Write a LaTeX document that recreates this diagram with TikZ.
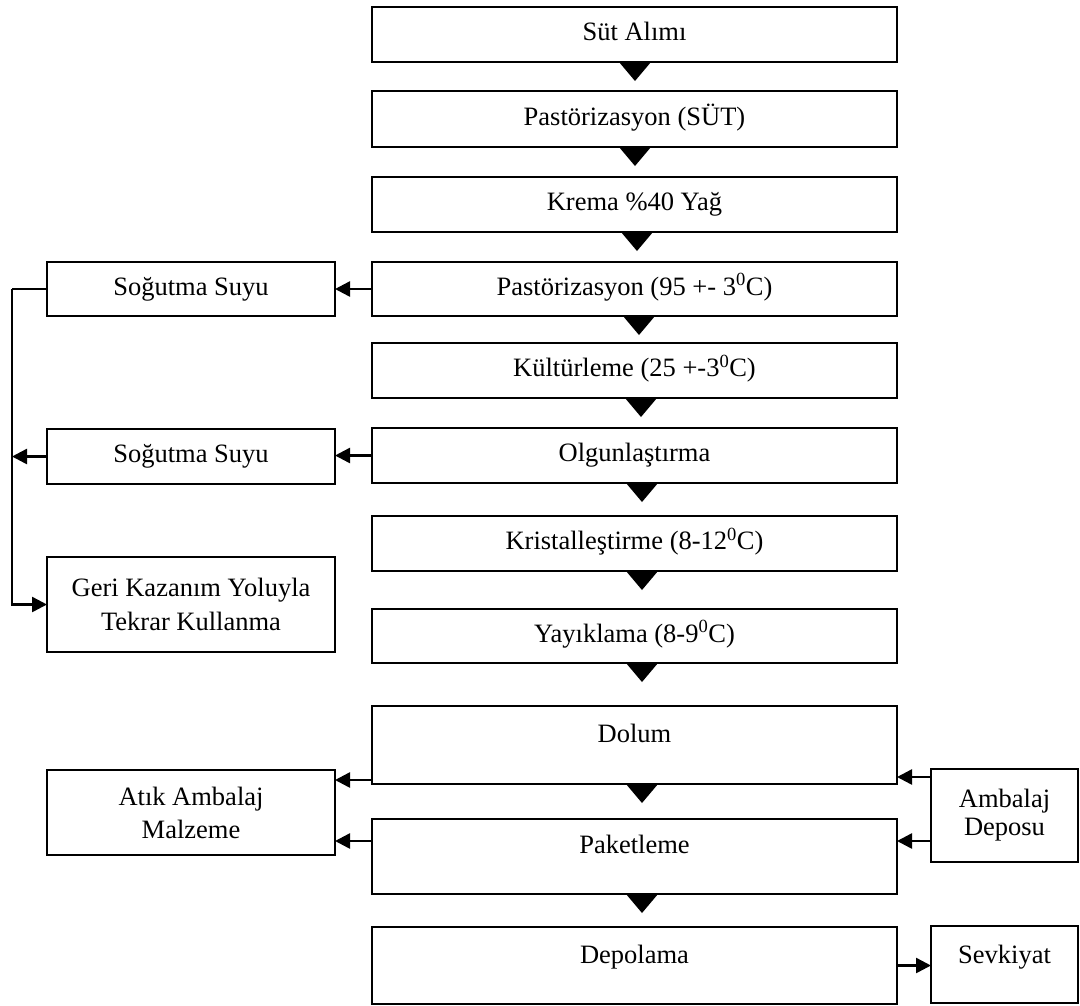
\documentclass[tikz,border=0pt]{standalone}
\usepackage{fontspec}
\setmainfont{Liberation Serif}
\usetikzlibrary{arrows.meta}
\begin{document}
\begin{tikzpicture}[x=1pt, y=-1pt,
  every node/.style={font=\fontsize{26.5}{34}\selectfont},
  box/.style={draw, fill=white, line width=2.8pt, inner sep=0pt, outer sep=0pt,
    text height=18pt, text depth=6pt},
  tallbox/.style={box, text depth=24pt},
  twoline/.style={draw, fill=white, line width=2.8pt, inner sep=0pt, outer sep=0pt,
    align=center},
  mainbox/.style={box, minimum width=525pt},
  sidebox/.style={box, minimum width=288pt},
  flow/.style={line width=2.5pt, -{Triangle[length=15pt, width=15pt]}},
  link/.style={line width=2.5pt},
  drop/.style={fill=black}
]
\useasboundingbox (0,0) rectangle (1080,1005);

% main process column
\node[mainbox, minimum height=55pt] (s1)  at (634.5, 34.5) {Süt Alımı};
\node[mainbox, minimum height=56pt] (s2)  at (634.5, 119)  {Pastörizasyon (SÜT)};
\node[mainbox, minimum height=55pt] (s3)  at (634.5, 204.5) {Krema \%40 Yağ};
\node[mainbox, minimum height=54pt] (s4)  at (634.5, 289)  {Pastörizasyon (95 +- 3\textsuperscript{0}C)};
\node[mainbox, minimum height=55pt] (s5)  at (634.5, 370.5) {Kültürleme (25 +-3\textsuperscript{0}C)};
\node[mainbox, minimum height=55pt] (s6)  at (634.5, 455.5) {Olgunlaştırma};
\node[mainbox, minimum height=55pt] (s7)  at (634.5, 543.5) {Kristalleştirme (8-12\textsuperscript{0}C)};
\node[mainbox, minimum height=54pt] (s8)  at (634.5, 636)  {Yayıklama (8-9\textsuperscript{0}C)};
\node[mainbox, tallbox, minimum height=78pt, text depth=24pt] (s9)  at (634.5, 745)   {Dolum};
\node[mainbox, tallbox, minimum height=75pt, text depth=25pt] (s10) at (634.5, 856.5) {Paketleme};
\node[mainbox, tallbox, minimum height=77pt, text depth=23pt] (s11) at (634.5, 965.5) {Depolama};

% side boxes
\node[sidebox, minimum height=54pt] (c1) at (191, 289)   {Soğutma Suyu};
\node[sidebox, minimum height=55pt] (c2) at (191, 456.5) {Soğutma Suyu};
\node[twoline, minimum width=288pt, minimum height=95pt] (geri) at (191, 604.5)
  {Geri Kazanım Yoluyla\\Tekrar Kullanma};
\node[twoline, minimum width=288pt, minimum height=85pt,
  font=\fontsize{26.5}{33}\selectfont] (atik) at (191, 812.5) {Atık Ambalaj\\Malzeme};
\node[twoline, minimum width=147pt, minimum height=93pt,
  font=\fontsize{26.5}{28}\selectfont] (amb) at (1004.5, 815.5) {Ambalaj\\Deposu};
\node[box, tallbox, minimum width=147pt, minimum height=77pt, text depth=21pt] (sevk)
  at (1004.5, 964.5) {Sevkiyat};

% downward markers between the main steps
\foreach \n/\dx in {s1/0.5, s2/0.5, s3/2.5, s4/4.5, s5/6.5, s6/7.5, s7/7.5, s8/7.5, s9/7.5, s10/7.5}
  \fill[drop] ([xshift=\dx pt]\n.south) ++(-16,0) -- ++(32,0) -- ++(-16,19) -- cycle;

% cooling water loop
\coordinate (bus) at (12, 0);
\draw[flow] (s4.west) -- (c1.east);
\draw[flow] (s6.west) -- (s6.west -| c2.east);
\draw[link] (c1.west) -- (c1.west -| bus);
\draw[flow] (c1.west -| bus) |- (geri.west);
\draw[flow] (c2.west) -- (c2.west -| bus);

% packaging material flows
\coordinate (dl) at ([yshift=4pt]s9.south west);
\coordinate (dr) at ([yshift=7pt]s9.south east);
\coordinate (pl) at ([yshift=-22pt]s10.north west);
\coordinate (pr) at ([yshift=-22pt]s10.north east);
\draw[flow] (dl) -- (dl -| atik.east);
\draw[flow] (pl) -- (pl -| atik.east);
\draw[flow] (dr -| amb.west) -- (dr);
\draw[flow] (pr -| amb.west) -- (pr);

% shipment
\draw[flow] (s11.east) -- (s11.east -| sevk.west);
\end{tikzpicture}
\end{document}
